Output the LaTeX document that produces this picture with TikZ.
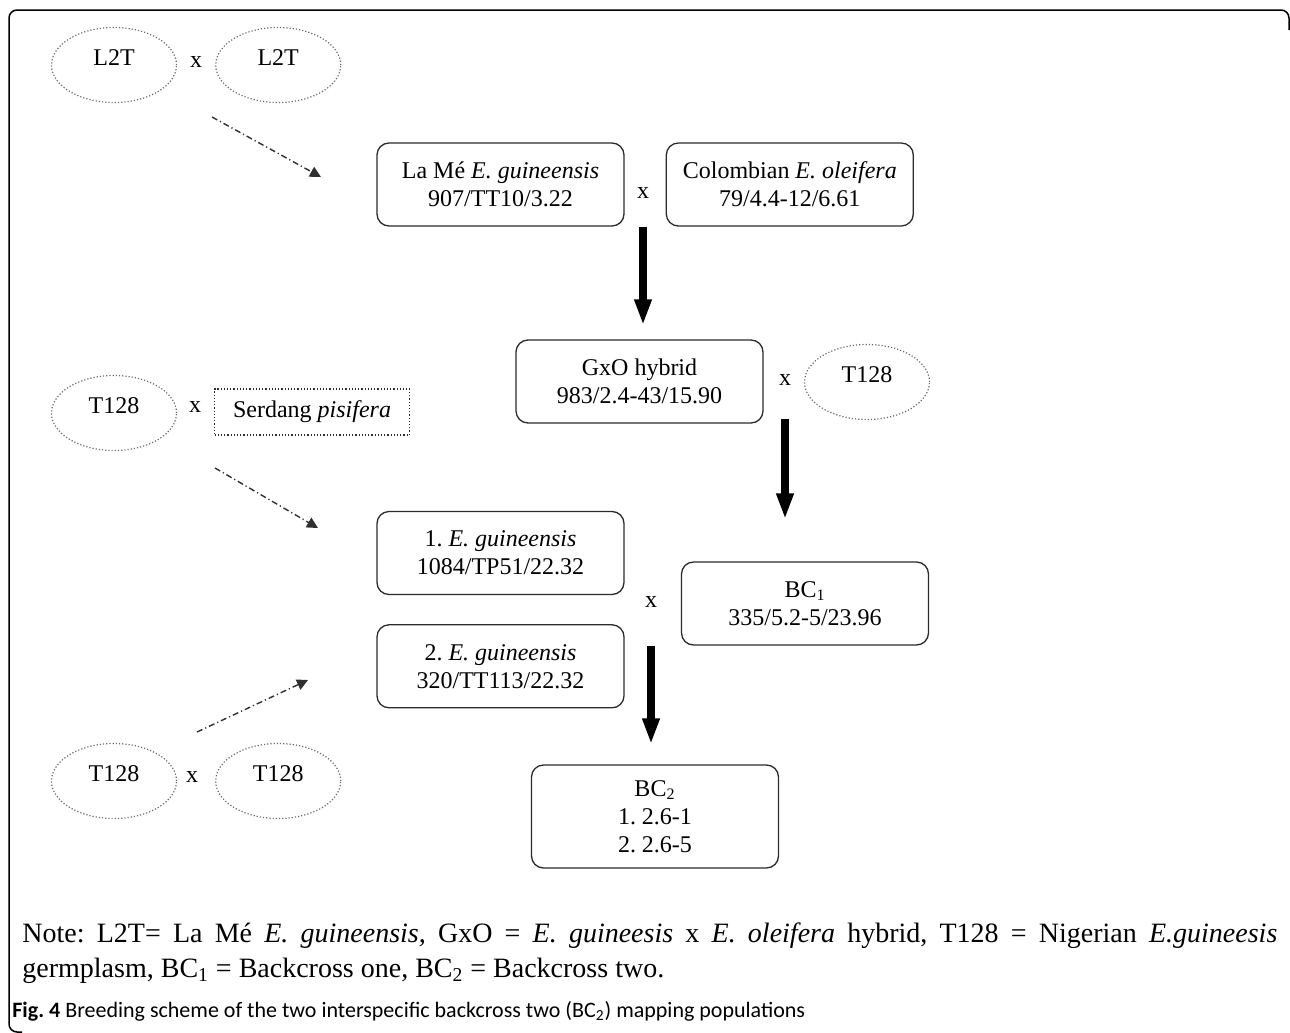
\documentclass[tikz,border=0pt]{standalone}
\usepackage{fontspec}
\setmainfont{Liberation Serif}
\newfontfamily\capfont{Carlito}
\usepackage{tikz}
\definecolor{bsLine}{HTML}{2B2B2B}
\definecolor{bsDots}{HTML}{6A6A6A}
\definecolor{bsDash}{HTML}{303030}
\usetikzlibrary{positioning,shapes.geometric,arrows.meta}
\frenchspacing

\begin{document}
\begin{tikzpicture}[x=0.5pt,y=-0.5pt,node distance=20.5pt and 20.5pt, box/.style={draw=bsLine,line width=0.65pt,rounded corners=6pt,align=center,minimum width=123.5pt,minimum height=41.5pt,inner sep=2pt,font=\fontsize{12}{14}\selectfont}, oval/.style={ellipse,draw=bsDots,densely dotted,line width=0.6pt,minimum width=62.5pt,minimum height=37.5pt,inner sep=0pt,text height=8pt,text depth=8pt,font=\fontsize{12}{14}\selectfont}, cross/.style={inner sep=0pt,font=\fontsize{12}{14}\selectfont}, fat/.style={line width=4pt,-{Triangle[width=8pt,length=13pt]}}, dasharrow/.style={draw=bsDash,line width=0.7pt,dash pattern=on 3pt off 1.5pt on 0.6pt off 1.5pt,-{Triangle[width=5.5pt,length=5.5pt]}}]
\useasboundingbox (0,0) rectangle (1290,1033);
\draw[black,line width=0.75pt,rounded corners=4pt] (22,1032)--(9,1032)--(9,10)--(1289,10)--(1289,30);
\node[oval] (l2ta) at (114,65) {L2T};
\node[oval,right=19pt of l2ta] (l2tb) {L2T};
\node[cross] (xa) at (196,62) {x};
\node[box] (lame) at (500.5,184.5) {La Mé \textit{E. guineensis}\\907/TT10/3.22};
\node[box,right=of lame] (colo) {Colombian \textit{E. oleifera}\\79/4.4-12/6.61};
\node[cross] (xb) at (643,193) {x};
\node[box] (gxo) at (639.5,381.5) {GxO hybrid\\983/2.4-43/15.90};
\node[cross] (xc) at (785,380) {x};
\node[oval] (t128a) at (867,382) {T128};
\node[oval] (t128b) at (114,413) {T128};
\node[cross] (xd) at (195,407) {x};
\node[draw=bsLine,densely dotted,line width=0.6pt,minimum width=97.5pt,minimum height=23pt,font=\fontsize{12}{14}\selectfont] (serd) at (312,412) {Serdang \textit{pisifera}};
\node[box] (gui1) at (500.5,553) {1. \textit{E. guineensis}\\1084/TP51/22.32};
\node[box,below=14.5pt of gui1] (gui2) {2. \textit{E. guineensis}\\320/TT113/22.32};
\node[cross] (xe) at (651,602) {x};
\node[box] (bc1) at (805,603.5) {BC\textsubscript{1}\\335/5.2-5/23.96};
\node[box,minimum height=51.5pt] (bc2) at (655,816.5) {BC\textsubscript{2}\\1. 2.6-1\\2. 2.6-5};
\node[oval] (t128c) at (114,781) {T128};
\node[oval,right=19pt of t128c] (t128d) {T128};
\node[cross] (xf) at (192,777) {x};
\coordinate (t1) at ([yshift=7pt]gxo.north);\coordinate (s2) at ([yshift=2.5pt]gxo.south);\coordinate (t2) at ([yshift=21pt]bc1.north);\coordinate (t3) at ([yshift=10pt]bc2.north);
\draw[fat] (xb |- lame.south)--(t1 -| xb);\draw[fat] (s2 -| xc)--(t2 -| xc);\draw[fat] (xe |- bc1.south)--(t3 -| xe);
\coordinate (d1s) at (212,117);\coordinate (d1e) at (321,177);
\coordinate (d2s) at (215,468);\coordinate (d2e) at (318,528);
\coordinate (d3s) at (197,732);\coordinate (d3e) at (308,680);
\draw[dasharrow] (d1s)--(d1e);\draw[dasharrow] (d2s)--(d2e);\draw[dasharrow] (d3s)--(d3e);
\node[text width=627.5pt,align=justify,inner sep=0pt,anchor=base west,font=\fontsize{14}{17.5}\selectfont] (note) at (22,942) {Note: L2T= La Mé \textit{E. guineensis,} GxO = \textit{E. guineesis} x \textit{E. oleifera} hybrid, T128 = Nigerian \textit{E.guineesis}\linebreak germplasm, BC\textsubscript{1} = Backcross one, BC\textsubscript{2} = Backcross two.};
\node[anchor=base west,inner sep=0pt,font=\capfont\fontsize{11}{13}\selectfont] (cap) at (12,1017) {\textbf{Fig. 4} Breeding scheme of the two interspecific backcross two (BC\textsubscript{2}) mapping populations};
\end{tikzpicture}
\end{document}
